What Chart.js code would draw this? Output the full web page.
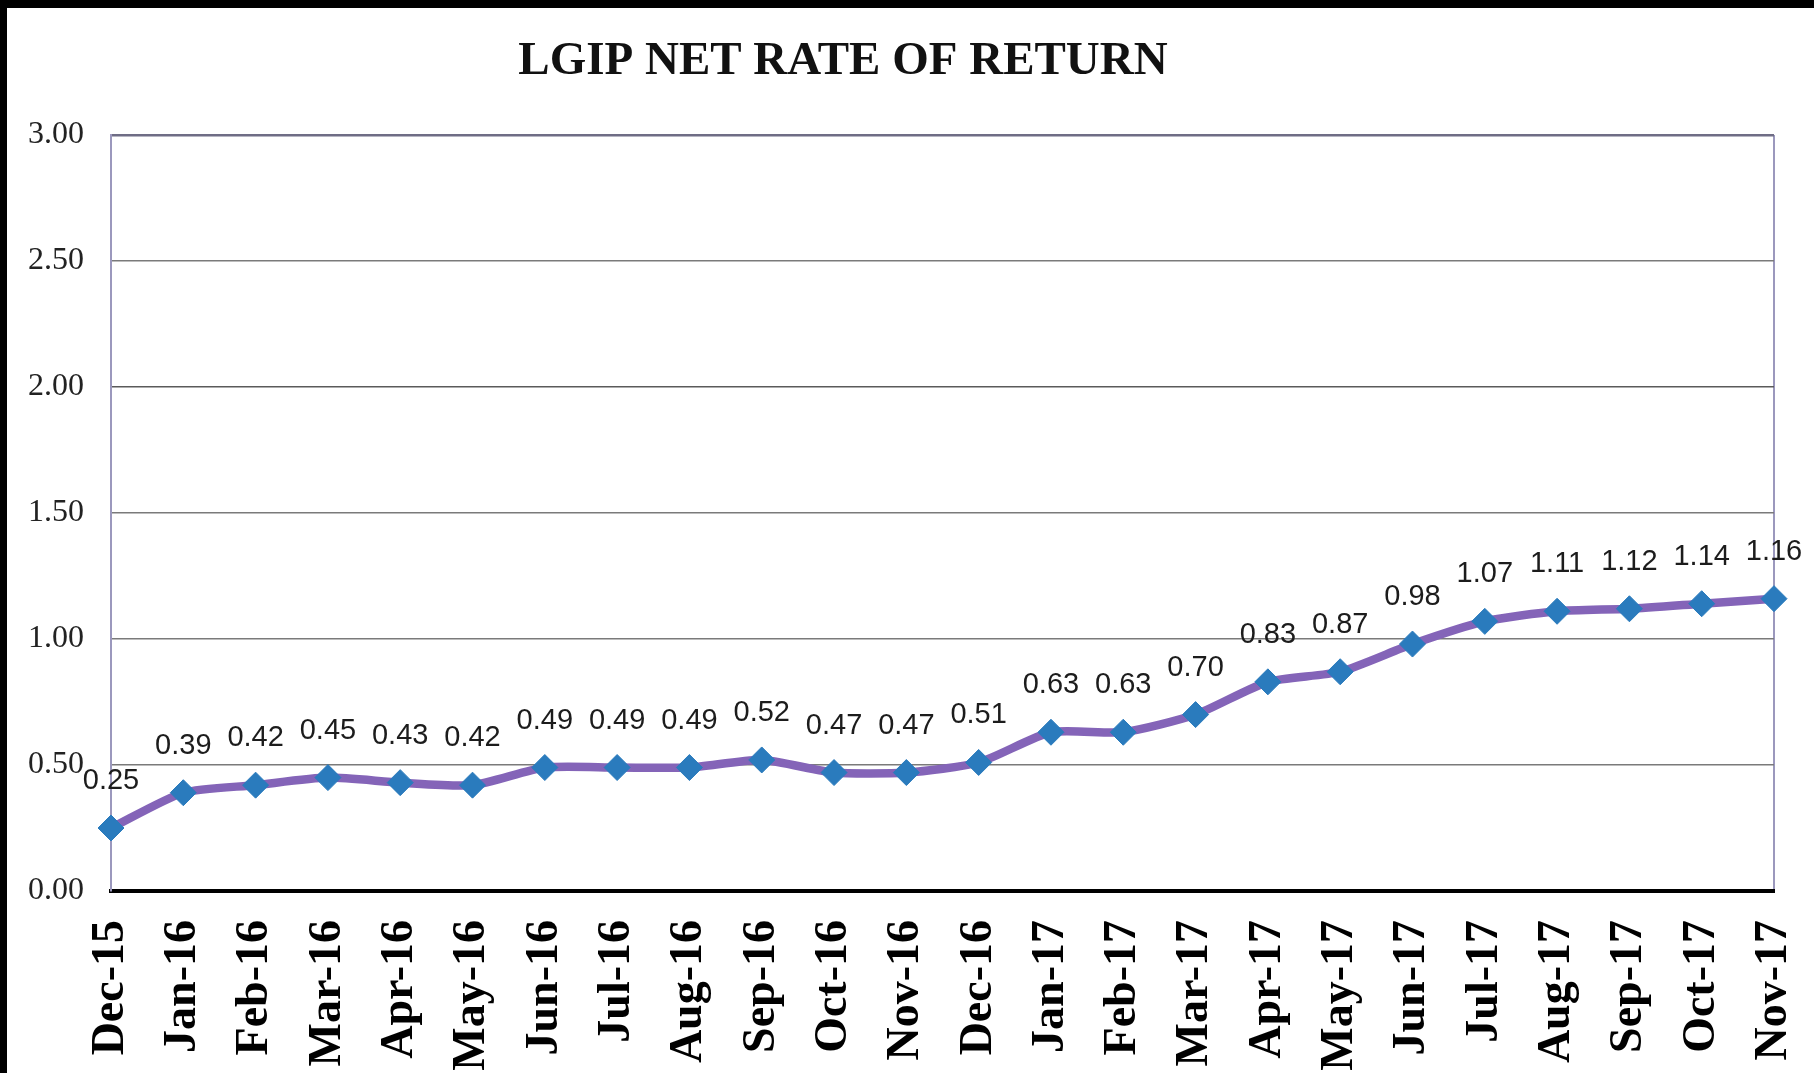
<!DOCTYPE html>
<html>
<head>
<meta charset="utf-8">
<script src="https://cdn.jsdelivr.net/npm/chart.js@4.4.1/dist/chart.umd.min.js"></script>
<style>
  html, body { margin: 0; padding: 0; background: #ffffff; }
  #wrap { width: 1814px; height: 1073px; position: relative; }
  canvas { display: block; }
</style>
</head>
<body>
<div id="wrap"><canvas id="c" width="1814" height="1073"></canvas></div>
<script>
const chartTitle = 'LGIP NET RATE OF RETURN';
const months = ['Dec-15','Jan-16','Feb-16','Mar-16','Apr-16','May-16','Jun-16','Jul-16','Aug-16','Sep-16','Oct-16','Nov-16','Dec-16','Jan-17','Feb-17','Mar-17','Apr-17','May-17','Jun-17','Jul-17','Aug-17','Sep-17','Oct-17','Nov-17'];
const netRate = [0.25,0.39,0.42,0.45,0.43,0.42,0.49,0.49,0.49,0.52,0.47,0.47,0.51,0.63,0.63,0.70,0.83,0.87,0.98,1.07,1.11,1.12,1.14,1.16];
const yMin = 0, yMax = 3, yStep = 0.5;

const frameAndTitle = {
  id: 'frameAndTitle',
  beforeDraw(chart) {
    const ctx = chart.ctx;
    ctx.save();
    ctx.fillStyle = '#ffffff';
    ctx.fillRect(0, 0, chart.width, chart.height);
    ctx.fillStyle = '#000000';
    ctx.fillRect(0, 0, chart.width, 8);
    ctx.fillRect(0, 0, 7, chart.height);
    ctx.restore();
  },
  afterLayout(chart) {
    const tb = chart.titleBlock;
    if (tb) {
      const shift = 843 - (tb.left + tb.right) / 2;
      tb.left += shift; tb.right += shift;
    }
  }
};

const valueLabels = {
  id: 'valueLabels',
  afterDatasetsDraw(chart) {
    const ctx = chart.ctx;
    const meta = chart.getDatasetMeta(0);
    const data = chart.data.datasets[0].data;
    ctx.save();
    ctx.font = '29px "Liberation Sans", Arial, sans-serif';
    ctx.fillStyle = '#1c1c1c';
    ctx.textAlign = 'center';
    ctx.textBaseline = 'middle';
    meta.data.forEach((pt, i) => {
      ctx.fillText(Number(data[i]).toFixed(2), pt.x, pt.y - 47);
    });
    ctx.restore();
  }
};

const lastIdx = months.length - 1;

new Chart(document.getElementById('c'), {
  type: 'line',
  data: {
    labels: months,
    datasets: [{
      data: netRate,
      borderColor: '#8464b8',
      borderWidth: 8.5,
      tension: 0.22,
      pointStyle: 'rectRot',
      pointRadius: 13,
      pointBackgroundColor: '#2a7bbd',
      pointBorderColor: '#2a7bbd',
      pointBorderWidth: 1,
      clip: false
    }]
  },
  options: {
    responsive: false,
    animation: false,
    devicePixelRatio: 1,
    layout: { padding: { left: 0, right: 40, top: 0, bottom: 0 } },
    plugins: {
      legend: { display: false },
      tooltip: { enabled: false },
      title: {
        display: true,
        text: chartTitle,
        color: '#111111',
        font: { family: '"Liberation Serif", "Times New Roman", serif', size: 47, weight: 'bold' },
        padding: { top: 34, bottom: 44.6 }
      }
    },
    scales: {
      x: {
        offset: false,
        grid: {
          drawTicks: false,
          color: (c) => (c.index === 0 || c.index === lastIdx) ? '#9b98bd' : 'rgba(0,0,0,0)',
          lineWidth: 2
        },
        border: { display: true, color: '#000000', width: 4 },
        ticks: {
          autoSkip: false,
          maxRotation: 90,
          minRotation: 90,
          padding: 29,
          color: '#000000',
          font: { family: '"Liberation Serif", "Times New Roman", serif', size: 46, weight: 'bold' }
        },
        afterFit(scale) {
          scale.height = 182;
          scale.paddingLeft = 0;
          scale.paddingRight = 0;
        }
      },
      y: {
        min: yMin,
        max: yMax,
        grid: {
          drawTicks: false,
          color: (c) => c.tick.value === 0 ? 'rgba(0,0,0,0)' : (c.tick.value === 3 ? '#6f6d85' : (c.tick.value === 2 ? '#5a5a5a' : '#7a7a7a')),
          lineWidth: (c) => c.tick.value === 3 ? 2.5 : 1.5
        },
        border: { display: true, color: '#9b98bd', width: 2 },
        ticks: {
          stepSize: yStep,
          padding: 27,
          color: '#222222',
          font: { family: '"Liberation Serif", "Times New Roman", serif', size: 32 },
          callback: (v) => Number(v).toFixed(2)
        },
        afterFit(scale) { scale.width = 111; }
      }
    }
  },
  plugins: [frameAndTitle, valueLabels]
});
</script>
</body>
</html>
